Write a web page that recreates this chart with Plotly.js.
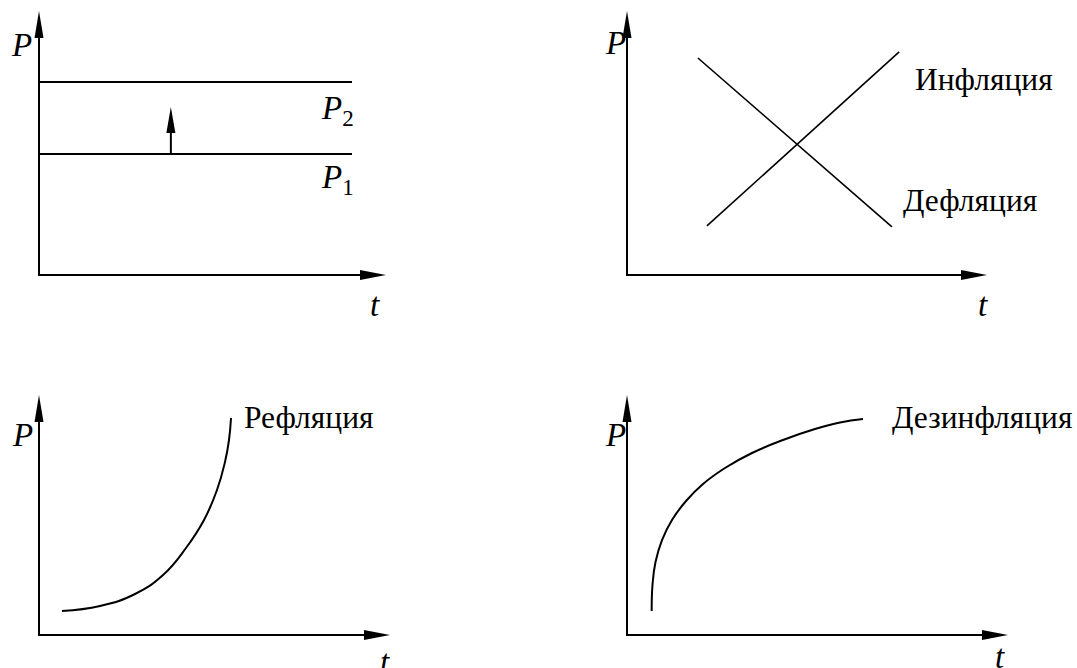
<!DOCTYPE html>
<html>
<head>
<meta charset="utf-8">
<script src="https://cdn.plot.ly/plotly-3.0.1.min.js"></script>
<style>html,body{margin:0;padding:0;background:#fff;}#chart{width:1077px;height:668px;}</style>
</head>
<body>
<div id="chart"></div>
<script>
// ---------- data (schematic; axis units 0..10) ----------
// Panel 1: price level shift P1 -> P2
const shiftT = [0, 9.02];
const levelP1 = [4.58, 4.58];
const levelP2 = [7.31, 7.31];
const shiftArrowT = 3.80;
const shiftArrowFrom = 4.58;
const shiftArrowTo = 6.36;

// Panel 2: inflation / deflation
const inflT = [2.22, 7.56];
const inflP = [1.86, 8.45];
const deflT = [1.97, 7.36];
const deflP = [8.22, 1.82];

// Panel 3: reflation
const reflT = [0.655, 1.738, 2.735, 3.533, 4.188, 4.701, 5.071, 5.299, 5.413, 5.470];
const reflP = [1.0, 1.208, 1.708, 2.5, 3.625, 4.792, 6.042, 7.208, 8.125, 9.042];

// Panel 4: disinflation
const disT = [0.648, 0.669, 0.748, 0.919, 1.181, 1.549, 1.995, 2.572, 3.281, 4.094, 4.934, 5.591, 6.194];
const disP = [1.0, 2.083, 3.042, 3.958, 4.792, 5.583, 6.292, 6.958, 7.583, 8.125, 8.583, 8.854, 9.0];

// Labels
const axisLabelP = '<i>P</i>';
const axisLabelT = '<i>t</i>';
const labelP1 = '<i>P</i><sub>1</sub>';
const labelP2 = '<i>P</i><sub>2</sub>';
const labelInfl = 'Инфляция';
const labelDefl = 'Дефляция';
const labelRefl = 'Рефляция';
const labelDis = 'Дезинфляция';

// ---------- layout helpers ----------
const W = 1077, H = 668;
const FONT = "'Liberation Serif', 'Times New Roman', serif";
// pixel position of origin and arrow tips for each panel
const panels = [
  {x: [39, 386], y: [275, 11]},
  {x: [627, 987], y: [275, 11]},
  {x: [39, 390], y: [635, 395]},
  {x: [627, 1008], y: [635, 395]}
];
const XR = [-0.8, 10.4], YR = [-1.3, 10.4];

const layout = {
  width: W, height: H,
  margin: {l: 0, r: 0, t: 0, b: 0},
  paper_bgcolor: '#fff', plot_bgcolor: 'rgba(0,0,0,0)',
  showlegend: false,
  shapes: [], annotations: []
};

panels.forEach((p, i) => {
  const n = i === 0 ? '' : String(i + 1);
  const kx = (p.x[1] - p.x[0]) / 10;
  const ky = (p.y[0] - p.y[1]) / 10;
  const xa = p.x[0] + XR[0] * kx, xb = p.x[0] + XR[1] * kx;
  const yBottom = p.y[0] - YR[0] * ky, yTop = p.y[0] - YR[1] * ky;
  const common = {showgrid: false, zeroline: false, showline: false, showticklabels: false, ticks: '', fixedrange: true};
  layout['xaxis' + n] = Object.assign({}, common, {domain: [xa / W, xb / W], range: XR, anchor: 'y' + n});
  layout['yaxis' + n] = Object.assign({}, common, {domain: [(H - yBottom) / H, (H - yTop) / H], range: YR, anchor: 'x' + n});
  const xr = 'x' + n, yr = 'y' + n;
  // axis lines
  layout.shapes.push({type: 'line', xref: xr, yref: yr, x0: 0, y0: 0, x1: 9.5, y1: 0, line: {color: '#000', width: 2}});
  layout.shapes.push({type: 'line', xref: xr, yref: yr, x0: 0, y0: -0.04, x1: 0, y1: 9.5, line: {color: '#000', width: 2}});
  // arrowheads (pixel-sized)
  layout.shapes.push({type: 'path', xref: xr, yref: yr, xsizemode: 'pixel', ysizemode: 'pixel',
    xanchor: 10, yanchor: 0, path: 'M0,0 L-26,5 L-26,-5 Z', fillcolor: '#000', line: {width: 0}});
  layout.shapes.push({type: 'path', xref: xr, yref: yr, xsizemode: 'pixel', ysizemode: 'pixel',
    xanchor: 0, yanchor: 10, path: 'M0,0 L-4.5,-27 L4.5,-27 Z', fillcolor: '#000', line: {width: 0}});
});

// shift arrow in panel 1
layout.shapes.push({type: 'line', xref: 'x', yref: 'y', x0: shiftArrowT, y0: shiftArrowFrom, x1: shiftArrowT, y1: shiftArrowTo - 0.5,
  line: {color: '#000', width: 2}});
layout.shapes.push({type: 'path', xref: 'x', yref: 'y', xsizemode: 'pixel', ysizemode: 'pixel',
  xanchor: shiftArrowT, yanchor: shiftArrowTo, path: 'M0,0 L-4.5,-26 L4.5,-26 Z', fillcolor: '#000', line: {width: 0}});

function ann(xr, yr, x, y, text, size) {
  layout.annotations.push({xref: xr, yref: yr, x: x, y: y, text: text, showarrow: false,
    xanchor: 'center', yanchor: 'middle',
    font: {family: FONT, size: size, color: '#000'}});
}
// axis labels
ann('x', 'y', -0.49, 8.71, axisLabelP, 33);
ann('x', 'y', 9.68, -1.14, axisLabelT, 33);
ann('x2', 'y2', -0.31, 8.79, axisLabelP, 33);
ann('x2', 'y2', 9.89, -1.14, axisLabelT, 33);
ann('x3', 'y3', -0.48, 8.33, axisLabelP, 33);
ann('x3', 'y3', 9.86, -1.125, axisLabelT, 33);
ann('x4', 'y4', -0.29, 8.33, axisLabelP, 33);
ann('x4', 'y4', 9.79, -0.92, axisLabelT, 33);
// curve labels
ann('x', 'y', 8.59, 6.25, labelP2, 33);
ann('x', 'y', 8.59, 3.6, labelP1, 33);
ann('x2', 'y2', 9.92, 7.39, labelInfl, 31.5);
ann('x2', 'y2', 9.54, 2.84, labelDefl, 31.5);
ann('x3', 'y3', 7.69, 9.08, labelRefl, 31.5);
ann('x4', 'y4', 9.32, 9.08, labelDis, 31.5);

const base = {type: 'scatter', mode: 'lines', hoverinfo: 'skip', showlegend: false};
const data = [
  Object.assign({}, base, {x: shiftT, y: levelP2, xaxis: 'x', yaxis: 'y', line: {color: '#000', width: 2}}),
  Object.assign({}, base, {x: shiftT, y: levelP1, xaxis: 'x', yaxis: 'y', line: {color: '#000', width: 2}}),
  Object.assign({}, base, {x: inflT, y: inflP, xaxis: 'x2', yaxis: 'y2', line: {color: '#000', width: 1.6}}),
  Object.assign({}, base, {x: deflT, y: deflP, xaxis: 'x2', yaxis: 'y2', line: {color: '#000', width: 1.6}}),
  Object.assign({}, base, {x: reflT, y: reflP, xaxis: 'x3', yaxis: 'y3', line: {color: '#000', width: 2, shape: 'spline', smoothing: 1.3}}),
  Object.assign({}, base, {x: disT, y: disP, xaxis: 'x4', yaxis: 'y4', line: {color: '#000', width: 2, shape: 'spline', smoothing: 1.3}})
];

Plotly.newPlot('chart', data, layout, {staticPlot: true, displayModeBar: false});
</script>
</body>
</html>
